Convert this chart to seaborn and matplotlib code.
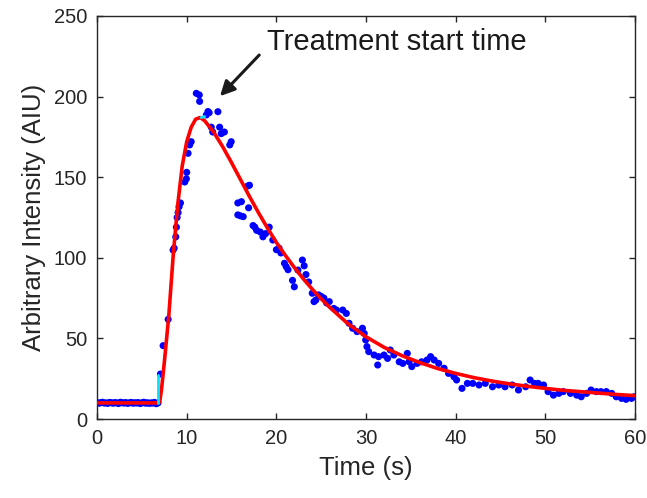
import numpy as np
import pandas as pd
import matplotlib
matplotlib.use("Agg")
import matplotlib.pyplot as plt
import seaborn as sns

base_t = [0.0, 0.2, 0.4, 0.6, 0.8, 1.0, 1.2, 1.4, 1.6, 1.8, 2.0, 2.2, 2.4, 2.6, 2.8, 3.0, 3.2, 3.4,
          3.6, 3.8, 4.0, 4.2, 4.4, 4.6, 4.8, 5.0, 5.2, 5.4, 5.6, 5.8, 6.0, 6.2, 6.4, 6.6, 6.8]
base_v = [10.2, 9.8, 10.1, 10.4, 9.9, 10.0, 9.7, 10.3, 10.1, 9.8, 10.2, 10.0, 9.6, 10.4, 10.1, 9.9, 10.2, 9.7,
          10.0, 10.3, 9.8, 10.1, 9.9, 10.2, 9.6, 10.0, 10.4, 9.8, 10.1, 9.7, 10.0, 9.9, 10.3, 9.5, 10.0]

rise_t = [7.07, 7.37, 7.93, 8.48, 8.6, 8.78, 8.85, 8.93, 9.04, 9.15, 9.3, 9.78, 9.96, 10.0, 10.15, 10.33, 10.5,
          11.07, 11.4, 11.44, 12.19, 12.37, 12.5, 12.74, 12.9, 13.48, 13.67, 13.85, 14.2, 14.8, 14.96]
rise_v = [27.9, 45.5, 61.8, 104.8, 106, 113, 119, 125, 128, 131.7, 134, 147, 149, 153, 164.8, 170, 172,
          202, 201, 197, 188.6, 190.7, 190, 181, 178, 190.6, 181, 177, 178, 170, 172]

decay_t = [15.7, 15.7, 16.0, 16.1, 16.3, 16.8, 16.9, 17.0, 17.4, 17.6, 17.8, 18.2, 18.5, 18.8, 19.2, 19.6,
           20.0, 20.3, 20.5, 20.9, 21.1, 21.3, 21.8, 22.0, 22.4, 22.9, 23.1, 23.3, 23.6, 24.0, 24.2, 24.4,
           24.7, 25.0, 25.3, 25.6, 25.9, 26.4, 26.7, 27.4, 27.8, 28.1, 28.5, 29.0, 29.6, 29.8, 29.96, 30.1,
           30.3, 30.9, 31.3, 31.4, 32.0, 32.4, 32.7, 33.1, 33.7, 34.1, 34.6, 34.8, 35.1, 35.7, 36.2, 36.8,
           37.2, 37.6, 38.1, 38.7, 39.2, 39.8, 40.1, 40.7, 41.3, 41.9, 42.6, 43.3, 44.1, 44.8, 45.5, 46.3,
           47.0, 47.8, 48.3, 48.8, 49.2, 49.8, 50.3, 50.9, 51.5, 52.0, 52.8, 53.5, 54.0, 54.6, 55.1, 55.7,
           56.2, 56.8, 57.4, 57.9, 58.5, 59.0, 59.6, 59.9]
decay_v = [126.6, 134, 126, 134.8, 125.5, 144.5, 131, 145, 120, 119, 117, 116, 113, 115, 119, 111,
           105, 106, 103, 96.6, 94.5, 92.6, 86, 82, 92.4, 98.6, 95, 89.6, 85, 78, 72.8, 73.8,
           77, 76, 75, 72, 72.8, 68.6, 67.6, 67.6, 65.5, 59.4, 56.3, 54.2, 56.3, 53.1, 49, 44.9,
           41.8, 39.7, 33.5, 38.7, 39.7, 37.6, 42.8, 39.7, 35.5, 34.5, 40.7, 35.5, 32.5, 34.5, 35.5, 36.6,
           38.7, 36.6, 34.5, 31.5, 28.3, 26.2, 24.2, 19, 22.1, 22.1, 21.1, 22.1, 20, 21.1, 20, 21.1,
           18, 20, 24.2, 22.1, 22.1, 21.1, 17, 14.8, 15.9, 17, 15.9, 14.8, 13.8, 15.9, 18, 17,
           17, 17, 15.9, 13.8, 12.8, 12.2, 12.8, 13.8]

# fitted model curve
fit_t = [0, 6.9, 7.0, 7.2, 7.5, 8.0, 8.5, 9.0, 9.5, 10.0, 10.5, 11.0, 11.5, 12.0, 13.0, 14.0, 15.0,
         16.0, 17.0, 18.0, 19.0, 20.0, 21.0, 22.0, 23.0, 24.0, 25.0, 26.0, 27.0, 28.0, 30.0, 32.0,
         34.0, 36.0, 38.0, 40.0, 42.0, 44.0, 46.0, 48.0, 50.0, 52.0, 55.0, 58.0, 60.0]
fit_v = [10, 10, 11, 19, 35, 64, 102, 133, 157, 172, 181, 186, 187, 185, 178, 169, 159,
         148.5, 138, 128, 118.5, 109.5, 101.5, 94, 87, 80.5, 74.5, 69, 64, 59, 51, 44.5,
         39.3, 35, 31.3, 28.3, 25.7, 23.6, 21.8, 20.3, 19, 17.8, 16.5, 15.2, 14.5]

# cyan markers (start of rise, peak)
start_t = [6.85, 6.85]
start_v = [10, 27]
peak_t = [11.6, 12.0]
peak_v = [187.0, 187.6]

dots = pd.DataFrame({"t": base_t + rise_t + decay_t, "v": base_v + rise_v + decay_v})
fit = pd.DataFrame({"t": fit_t, "v": fit_v})

sns.set_style("ticks")
plt.rcParams["font.family"] = ["Liberation Sans", "DejaVu Sans"]
ink = "#262626"

fig = plt.figure(figsize=(6.47, 4.98), dpi=100)
ax = fig.add_axes([0.150, 0.1586, 0.8315, 0.8094])

sns.scatterplot(data=dots, x="t", y="v", ax=ax, color="#0000ff", s=26,
                edgecolor="none", linewidth=0, zorder=2)
sns.lineplot(data=fit, x="t", y="v", ax=ax, color="#ff0000", linewidth=2.6,
             sort=False, estimator=None, zorder=3)
sns.lineplot(x=start_t, y=start_v, ax=ax, color="#00e5ff", linewidth=2,
             sort=False, estimator=None, zorder=4)
sns.lineplot(x=peak_t, y=peak_v, ax=ax, color="#00e5ff", linewidth=2,
             sort=False, estimator=None, zorder=4)

ax.set_xlim(0, 60)
ax.set_ylim(0, 250)
ax.set_xticks(range(0, 61, 10))
ax.set_yticks(range(0, 251, 50))
ax.tick_params(direction="in", length=4, width=1, colors=ink, labelsize=14.5,
               top=True, right=True, pad=7)
for sp in ax.spines.values():
    sp.set_color(ink)
    sp.set_linewidth(1)

ax.set_xlabel("Time (s)", fontsize=18.5, color=ink, labelpad=6)
ax.set_ylabel("Arbitrary Intensity (AIU)", fontsize=18.5, color=ink, labelpad=6)

ax.annotate("", xy=(13.5, 199), xytext=(18.3, 227),
            arrowprops=dict(arrowstyle="-|>", color="#1a1a1a", lw=2.2, mutation_scale=22))
ax.text(19.0, 234, "Treatment start time", fontsize=21, color="#1a1a1a",
        ha="left", va="center")

fig.savefig("out.png", dpi=100)
